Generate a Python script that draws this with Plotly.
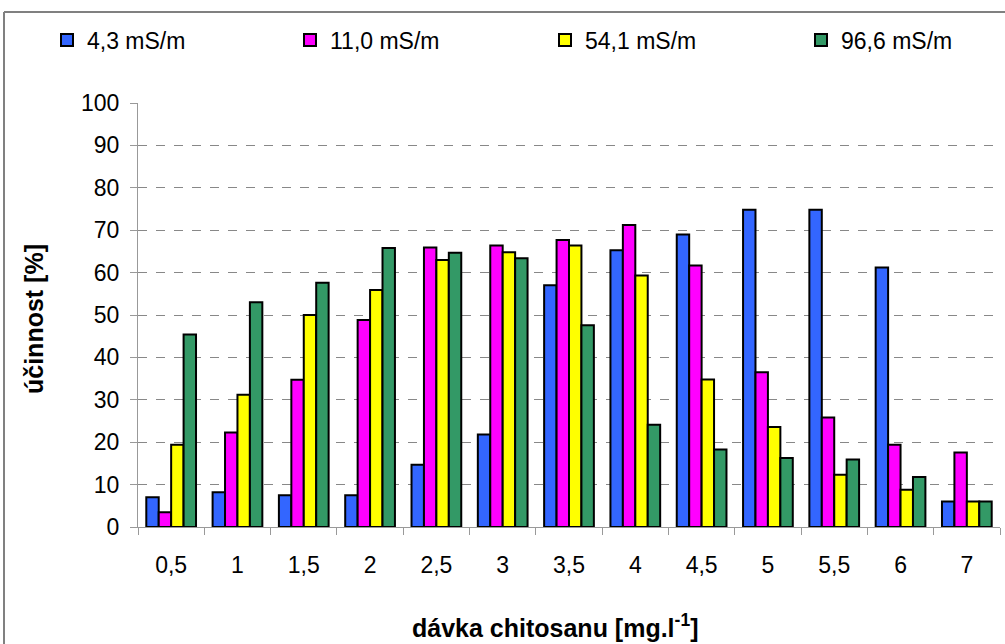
import plotly.graph_objects as go

# doses of chitosan (category labels)
davky = ["0,5", "1", "1,5", "2", "2,5", "3", "3,5", "4", "4,5", "5", "5,5", "6", "7"]

serie_nazvy = ["4,3 mS/m", "11,0 mS/m", "54,1 mS/m", "96,6 mS/m"]
ucinnost_4_3 = [7.0, 8.2, 7.5, 7.5, 14.7, 21.8, 57.0, 65.3, 69.0, 74.8, 74.8, 61.2, 6.0]
ucinnost_11_0 = [3.5, 22.3, 34.7, 48.8, 65.9, 66.4, 67.7, 71.2, 61.7, 36.5, 25.8, 19.4, 17.6]
ucinnost_54_1 = [19.4, 31.2, 50.0, 55.9, 63.0, 64.8, 66.4, 59.3, 34.8, 23.6, 12.3, 8.8, 6.0]
ucinnost_96_6 = [45.4, 53.0, 57.6, 65.8, 64.7, 63.4, 47.6, 24.1, 18.3, 16.3, 15.9, 11.8, 6.0]

barvy = ["#3366FF", "#FF00FF", "#FFFF00", "#339966"]
FONT = "Liberation Sans, Arial, sans-serif"

W, H = 1005, 644
L, R, T, B = 138, 5, 103, 117
pw, ph = W - L - R, H - T - B

fig = go.Figure()
legendy = ["legend", "legend2", "legend3", "legend4"]
legend_x = [47, 290, 545, 801]  # left edge of each legend (px)
for i, (nazev, hodnoty, barva) in enumerate(zip(serie_nazvy,
                                 [ucinnost_4_3, ucinnost_11_0, ucinnost_54_1, ucinnost_96_6],
                                 barvy)):
    fig.add_trace(go.Bar(x=davky, y=hodnoty, name=nazev, legend=legendy[i],
                         marker=dict(color=barva, line=dict(color="black", width=2))))

leg_common = dict(xref="container", yref="container", xanchor="left", yanchor="middle",
                  bgcolor="rgba(0,0,0,0)", font=dict(size=23), itemwidth=30)
fig.update_layout(
    width=W, height=H,
    margin=dict(l=L, r=R, t=T, b=B, autoexpand=False),
    paper_bgcolor="white", plot_bgcolor="white",
    barmode="group", bargap=0.25, bargroupgap=0,
    font=dict(family=FONT, size=23, color="black"),
    showlegend=True,
    legend=dict(x=legend_x[0] / W, y=1 - 40 / H, **leg_common),
    legend2=dict(x=legend_x[1] / W, y=1 - 40 / H, **leg_common),
    legend3=dict(x=legend_x[2] / W, y=1 - 40 / H, **leg_common),
    legend4=dict(x=legend_x[3] / W, y=1 - 40 / H, **leg_common),
)
fig.update_xaxes(
    type="category", showline=True, linecolor="#999999", linewidth=1,
    ticks="outside", tickson="boundaries", ticklen=7, tickcolor="#999999",
    ticklabelstandoff=17, showgrid=False,
)
fig.update_yaxes(
    range=[0, 100], dtick=10, showline=True, linecolor="#999999", linewidth=1,
    ticks="outside", ticklen=7, tickcolor="#999999", ticklabelstandoff=6,
    showgrid=True, gridcolor="#888888", griddash="dash", gridwidth=1,
    zeroline=False,
)

# axis titles
fig.add_annotation(text="<b>účinnost [%]</b>", textangle=-90, showarrow=False,
                   xref="paper", yref="paper", x=(34 - L) / pw, y=(527 - 319) / ph,
                   xanchor="center", yanchor="middle", font=dict(size=25))
fig.add_annotation(text="<b>dávka chitosanu [mg.l<sup>-1</sup>]</b>", showarrow=False,
                   xref="paper", yref="paper", x=(555 - L) / pw, y=-(626 - T - ph) / ph,
                   xanchor="center", yanchor="middle", font=dict(size=25))

# outer frame of the chart (left and top edges; the rest lies outside the picture)
ram_x = (4 - L) / pw
fig.add_shape(type="line", xref="paper", yref="paper", ysizemode="pixel", yanchor=1,
              x0=ram_x, x1=(W + 10 - L) / pw, y0=T - 12, y1=T - 12,
              line=dict(color="#808080", width=2), layer="above")
fig.add_shape(type="line", xref="paper", yref="paper", ysizemode="pixel", yanchor=1,
              x0=ram_x, x1=ram_x, y0=T - 12, y1=-(ph + B + 10),
              line=dict(color="#808080", width=2), layer="above")

fig.write_html("out.html", config={"displayModeBar": False},
               post_script="document.body.style.margin='0';")
